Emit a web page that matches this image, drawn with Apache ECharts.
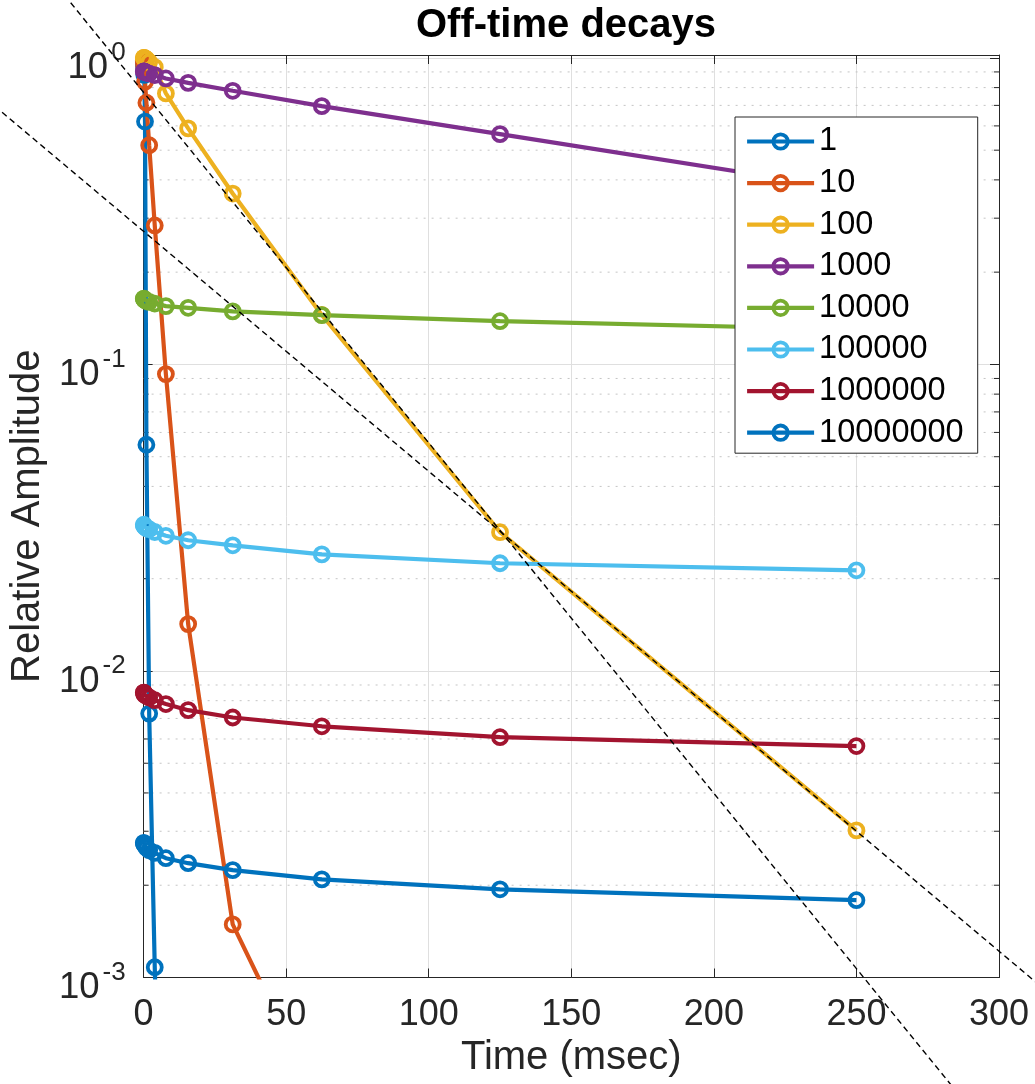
<!DOCTYPE html>
<html><head><meta charset="utf-8">
<script src="https://cdn.jsdelivr.net/npm/echarts@6/dist/echarts.min.js"></script>
<style>html,body{margin:0;padding:0;background:#fff}#c{width:1035px;height:1084px}</style>
</head><body><div id="c"></div><script>
// ---- data ----
const times = [0.0610, 0.1221, 0.2441, 0.4883, 0.9766, 1.9531, 3.9063, 7.8125, 15.625, 31.25, 62.5, 125, 250];
const seriesNames = ['1', '10', '100', '1000', '10000', '100000', '1000000', '10000000'];
const amp1     = [0.97, 0.94, 0.88, 0.62, 0.0547, 0.00726, 0.00108, 5e-5, 1e-7, 1e-9, 1e-10, 1e-11, 1e-12];
const amp10    = [0.98, 0.96, 0.935, 0.836, 0.714, 0.519, 0.284, 0.0930, 0.01422, 0.00149, 0.000374, 1e-6, 1e-9];
const amp100   = [1.0, 1.0, 1.0, 0.995, 0.99, 0.97, 0.933, 0.766, 0.589, 0.361, 0.145, 0.02836, 0.00302];
const amp1e3   = [0.904, 0.903, 0.902, 0.899, 0.895, 0.889, 0.879, 0.857, 0.829, 0.781, 0.696, 0.564, 0.37];
const amp1e4   = [0.164, 0.1635, 0.163, 0.162, 0.161, 0.160, 0.158, 0.155, 0.153, 0.149, 0.1448, 0.1384, 0.130];
const amp1e5   = [0.0300, 0.0298, 0.0297, 0.0295, 0.0292, 0.0290, 0.0284, 0.0276, 0.0267, 0.0257, 0.0240, 0.02246, 0.0213];
const amp1e6   = [0.0085, 0.0085, 0.0084, 0.00835, 0.0083, 0.0082, 0.00803, 0.0078, 0.00745, 0.00705, 0.0066, 0.00608, 0.00569];
const amp1e7   = [0.00275, 0.00274, 0.00272, 0.0027, 0.00265, 0.0026, 0.00255, 0.00245, 0.00236, 0.00224, 0.00209, 0.00194, 0.001787];
const fitA = [[-55, 0.732], [320, 8.5e-4]];
const fitB = [[-30, 1.70], [290, 3.73e-4]];
const xTicks = {min: 0, max: 300, interval: 50};
const yRange = {min: 0.001, max: 1.022};
const minorTickValues = [0.002,0.003,0.004,0.005,0.006,0.007,0.008,0.009,
                         0.02,0.03,0.04,0.05,0.06,0.07,0.08,0.09,
                         0.2,0.3,0.4,0.5,0.6,0.7,0.8,0.9];
// ---- style ----
const colors = ['#0072BD','#D95319','#EDB120','#7E2F8E','#77AC30','#4DBEEE','#A2142F','#0072BD'];
const FONT = '"Liberation Sans", Arial, Helvetica, sans-serif';
const AX = '#262626';
const LW = 4.2, MS = 14, MB = 3.8;
const allAmps = [amp1, amp10, amp100, amp1e3, amp1e4, amp1e5, amp1e6, amp1e7];

const chart = echarts.init(document.getElementById('c'), null, {renderer: 'canvas'});

const dataSeries = allAmps.map((arr, i) => ({
  type: 'line', name: seriesNames[i],
  xAxisIndex: 0, yAxisIndex: 0,
  data: times.map((t, k) => [t, arr[k]]),
  symbol: 'circle', symbolSize: MS, showAllSymbol: true,
  lineStyle: {color: colors[i], width: LW},
  itemStyle: {color: 'rgba(0,0,0,0)', borderColor: colors[i], borderWidth: MB},
  emphasis: {disabled: true}, silent: true, z: 2
}));

const minorSeries = {
  type: 'custom', coordinateSystem: 'cartesian2d', xAxisIndex: 0, yAxisIndex: 0,
  silent: true, z: 1, clip: false,
  data: minorTickValues.map(v => [0, v]),
  encode: {x: 0, y: 1},
  renderItem: function (params, api) {
    const v = api.value(1);
    const p1 = api.coord([xTicks.min, v]);
    const p2 = api.coord([xTicks.max, v]);
    return {type: 'group', children: [
      {type: 'line', shape: {x1: p1[0], y1: p1[1], x2: p2[0], y2: p2[1]}, style: {stroke: '#c4c4c4', lineWidth: 1, lineDash: [2, 6]}},
      {type: 'line', shape: {x1: p1[0], y1: p1[1], x2: p1[0] + 5, y2: p1[1]}, style: {stroke: AX, lineWidth: 1}},
      {type: 'line', shape: {x1: p2[0] - 5, y1: p2[1], x2: p2[0], y2: p2[1]}, style: {stroke: AX, lineWidth: 1}}
    ]};
  }
};

const fitSeries = {
  type: 'custom', coordinateSystem: 'cartesian2d', xAxisIndex: 0, yAxisIndex: 0,
  silent: true, z: 3, clip: false,
  data: [fitA, fitB].map(f => [f[0][0], f[0][1], f[1][0], f[1][1]]),
  encode: {x: [0, 2], y: [1, 3]},
  renderItem: function (params, api) {
    const p1 = api.coord([api.value(0), api.value(1)]);
    const p2 = api.coord([api.value(2), api.value(3)]);
    return {type: 'line', shape: {x1: p1[0], y1: p1[1], x2: p2[0], y2: p2[1]},
            style: {stroke: '#000', lineWidth: 1.4, lineDash: [6, 4]}};
  }
};

function yLabel(v) {
  const l = Math.log10(v);
  const e = Math.round(l);
  if (Math.abs(l - e) > 1e-6) return '';
  return '{b|10}{s|' + e + '}';
}

const baseAxisX = {
  type: 'value', min: xTicks.min, max: xTicks.max, interval: xTicks.interval,
  axisLine: {show: true, onZero: false, lineStyle: {color: AX, width: 1}},
  axisTick: {show: true, inside: true, length: 9, lineStyle: {color: AX, width: 1}},
};
const baseAxisY = {
  type: 'log', logBase: 10, min: yRange.min, max: yRange.max,
  axisLine: {show: true, onZero: false, lineStyle: {color: AX, width: 1}},
  axisTick: {show: true, inside: true, length: 9, lineStyle: {color: AX, width: 1}},
};

chart.setOption({
  animation: false,
  backgroundColor: '#fff',
  title: {
    text: 'Off-time decays', left: 561, top: 1, textAlign: 'center',
    textStyle: {fontFamily: FONT, fontSize: 40, fontWeight: 'bold', color: '#000'}
  },
  legend: {
    data: seriesNames, orient: 'vertical', left: 735, top: 117,
    padding: [8, 14, 4, 10], itemGap: 8.6, itemWidth: 67, itemHeight: 18,
    backgroundColor: '#fff', borderColor: AX, borderWidth: 1, borderRadius: 0,
    selectedMode: false,
    lineStyle: {width: LW},
    itemStyle: {borderWidth: MB},
    textStyle: {fontFamily: FONT, fontSize: 32.5, color: '#000', lineHeight: 32}
  },
  grid: {left: 142, right: 36, top: 55, bottom: 106.5, containLabel: false},
  xAxis: [
    Object.assign({}, baseAxisX, {
      position: 'bottom',
      name: 'Time (msec)', nameLocation: 'middle', nameGap: 50,
      nameTextStyle: {fontFamily: FONT, fontSize: 40, color: AX},
      axisLabel: {show: true, margin: 20, fontFamily: FONT, fontSize: 36, color: AX},
      splitLine: {show: true, lineStyle: {color: '#dfdfdf', width: 1}}
    }),
    Object.assign({}, baseAxisX, {
      position: 'top', axisLabel: {show: false}, splitLine: {show: false}
    })
  ],
  yAxis: [
    Object.assign({}, baseAxisY, {
      position: 'left',
      name: 'Relative Amplitude', nameLocation: 'middle', nameGap: 83, nameRotate: 90,
      nameTextStyle: {fontFamily: FONT, fontSize: 40, color: AX},
      axisLabel: {
        show: true, margin: 18, formatter: yLabel, showMaxLabel: false,
        rich: {
          b: {fontFamily: FONT, fontSize: 36.5, color: AX, padding: [21, 0, 0, 0]},
          s: {fontFamily: FONT, fontSize: 26, color: AX, padding: [0, 0, 10, 3]}
        }
      },
      splitLine: {show: true, lineStyle: {color: '#dfdfdf', width: 1}}
    }),
    Object.assign({}, baseAxisY, {
      position: 'right', axisLabel: {show: false}, splitLine: {show: false}
    })
  ],
  series: [minorSeries].concat(dataSeries, [fitSeries])
});
</script></body></html>
